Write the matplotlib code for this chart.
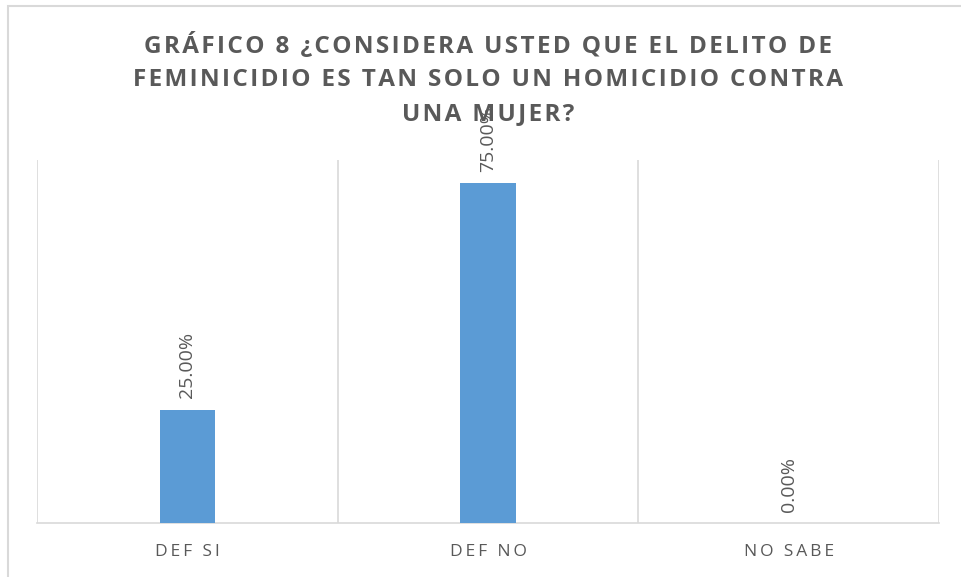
import matplotlib.pyplot as plt
from matplotlib.patches import Rectangle

categorias = ['DEF SI', 'DEF NO', 'NO SABE']
valores = [25.0, 75.0, 0.0]
titulo = ['GRÁFICO 8 ¿CONSIDERA USTED QUE EL DELITO DE',
          'FEMINICIDIO ES TAN SOLO UN HOMICIDIO CONTRA',
          'UNA MUJER?']

GRIS = '#595959'
LINEA = '#d9d9d9'
AZUL = '#5b9bd5'
FAM = ['Open Sans', 'DejaVu Sans']


def espaciar(s, sep='\u200a'):
    return sep.join(s)


fig = plt.figure(figsize=(9.61, 5.77), dpi=100)
ax = fig.add_axes([37 / 961, 54 / 577, 902 / 961, 363 / 577])

x = range(len(categorias))
ax.bar(x, valores, width=0.183, color=AZUL, zorder=3)
ax.set_xlim(-0.5, 2.5)
ax.set_ylim(0, 80)

# separadores verticales entre categorias
for xv in [-0.5, 0.5, 1.5, 2.5]:
    ax.axvline(xv, color=LINEA, lw=1.2, zorder=1)

for s in ['top', 'left', 'right']:
    ax.spines[s].set_visible(False)
ax.spines['bottom'].set_color(LINEA)
ax.spines['bottom'].set_linewidth(1.2)
ax.set_yticks([])
ax.set_xticks(list(x))
ax.set_xticklabels([espaciar(c, '\u2009') for c in categorias], color=GRIS,
                   fontsize=12.5, family=FAM)
ax.tick_params(axis='x', length=0, pad=15)

for i, v in enumerate(valores):
    ax.annotate(f'{v:.2f}%', (i, v), xytext=(0, 8), textcoords='offset points',
                rotation=90, ha='center', va='bottom', color=GRIS,
                fontsize=14, family=FAM, zorder=4)

ys = [46, 80, 114]
for linea, y in zip(titulo, ys):
    fig.text(488 / 961, 1 - y / 577, espaciar(linea), ha='center', va='center',
             color=GRIS, fontsize=17.5, fontweight='bold', family=FAM)

fig.patches.append(Rectangle((8 / 961, -0.2), 1.5, 1.2 - 6 / 577,
                             transform=fig.transFigure, fill=False,
                             edgecolor=LINEA, lw=1.5))

fig.savefig('out.png', dpi=100)
